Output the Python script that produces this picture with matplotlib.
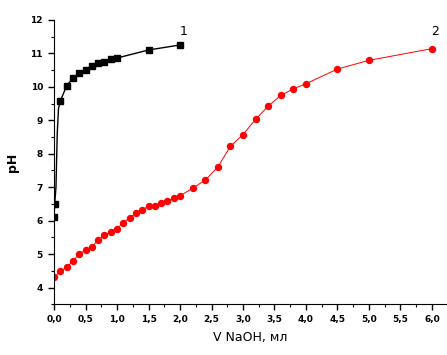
import numpy as np
import matplotlib
matplotlib.use("Agg")
import matplotlib.pyplot as plt
from matplotlib.ticker import MultipleLocator, FuncFormatter

# curve 1 (black squares)
v1 = [0.0, 0.01, 0.03, 0.05, 0.07, 0.1, 0.2, 0.3, 0.4, 0.5, 0.6, 0.7, 0.8, 0.9, 1.0, 1.5, 2.0]
ph1 = [6.1, 6.5, 7.0, 8.6, 9.35, 9.58, 10.03, 10.26, 10.4, 10.5, 10.62, 10.7, 10.74, 10.82, 10.86, 11.1, 11.25]

# curve 2 (red circles)
v2 = [0.0, 0.1, 0.2, 0.3, 0.4, 0.5, 0.6, 0.7, 0.8, 0.9, 1.0, 1.1, 1.2, 1.3, 1.4,
      1.5, 1.6, 1.7, 1.8, 1.9, 2.0, 2.2, 2.4, 2.6, 2.8, 3.0, 3.2, 3.4, 3.6, 3.8,
      4.0, 4.5, 5.0, 6.0]
ph2 = [4.3, 4.49, 4.6, 4.79, 5.0, 5.12, 5.22, 5.42, 5.56, 5.67, 5.76, 5.94, 6.08, 6.22, 6.31,
       6.44, 6.44, 6.54, 6.59, 6.67, 6.74, 6.97, 7.21, 7.6, 8.22, 8.57, 9.03, 9.42, 9.74, 9.94,
       10.09, 10.53, 10.79, 11.14]

fig = plt.figure(figsize=(4.47, 3.55), dpi=100)
ax = fig.add_axes([0.121, 0.143, 0.879, 0.801])

# markers hidden on the steep start of curve 1
marks1 = [0, 1] + list(range(5, len(v1)))
ax.plot(v1, ph1, color="black", lw=1.0, marker="s", ms=4, markevery=marks1)
ax.plot(v2, ph2, color="#ff0000", lw=0.7, marker="o", ms=4.3)

ax.text(2.05, 11.64, "1", fontsize=9, ha="center", va="center")
ax.text(6.05, 11.64, "2", fontsize=9, ha="center", va="center")

ax.set_xlim(0, 6.24)
ax.set_ylim(3.5, 12)

ax.spines["top"].set_visible(False)
ax.spines["right"].set_visible(False)

ax.xaxis.set_major_locator(MultipleLocator(0.5))
ax.xaxis.set_minor_locator(MultipleLocator(0.25))
ax.yaxis.set_major_locator(MultipleLocator(1))
ax.yaxis.set_minor_locator(MultipleLocator(0.5))
ax.xaxis.set_major_formatter(FuncFormatter(lambda x, p: f"{x:.1f}".replace(".", ",")))
ax.yaxis.set_major_formatter(FuncFormatter(lambda y, p: f"{y:.0f}" if y >= 4 else ""))

ax.tick_params(which="both", direction="out")
ax.tick_params(which="major", length=4, width=1, labelsize=6.5, pad=4)
ax.tick_params(which="minor", length=2, width=0.8)
for lab in ax.get_xticklabels() + ax.get_yticklabels():
    lab.set_fontweight("bold")

ax.set_xlabel("V NaOH, мл", fontsize=9, labelpad=5)
ax.set_ylabel("pH", fontsize=9, fontweight="bold", labelpad=8)

fig.savefig("out.png", dpi=100)
